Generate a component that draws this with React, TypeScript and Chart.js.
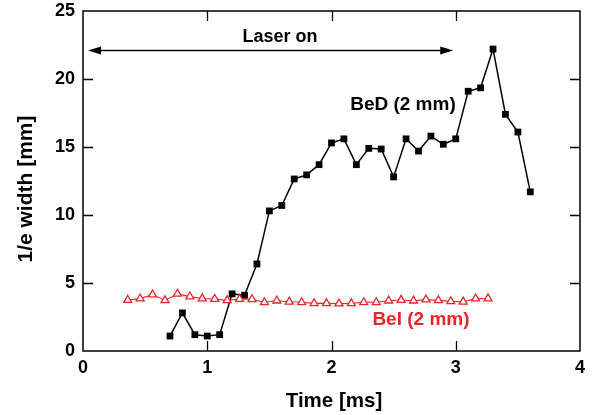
import React, { useEffect, useRef } from 'react';
import { Chart, registerables } from 'chart.js';

Chart.register(...registerables);

const bedTime = [0.7, 0.8, 0.9, 1.0, 1.1, 1.2, 1.3, 1.4, 1.5, 1.6, 1.7, 1.8, 1.9, 2.0, 2.1, 2.2, 2.3, 2.4, 2.5, 2.6, 2.7, 2.8, 2.9, 3.0, 3.1, 3.2, 3.3, 3.4, 3.5, 3.6];
const bedWidth = [1.1, 2.8, 1.2, 1.1, 1.2, 4.2, 4.1, 6.4, 10.3, 10.7, 12.65, 12.95, 13.7, 15.3, 15.6, 13.7, 14.9, 14.85, 12.8, 15.6, 14.7, 15.8, 15.2, 15.6, 19.1, 19.35, 22.2, 17.4, 16.1, 11.7];

const beiTime = [0.36, 0.46, 0.56, 0.66, 0.76, 0.86, 0.96, 1.06, 1.16, 1.26, 1.36, 1.46, 1.56, 1.66, 1.76, 1.86, 1.96, 2.06, 2.16, 2.26, 2.36, 2.46, 2.56, 2.66, 2.76, 2.86, 2.96, 3.06, 3.16, 3.26];
const beiWidth = [3.75, 3.85, 4.15, 3.72, 4.2, 4.0, 3.86, 3.82, 3.72, 3.82, 3.8, 3.58, 3.7, 3.62, 3.58, 3.5, 3.5, 3.48, 3.5, 3.58, 3.58, 3.7, 3.75, 3.7, 3.78, 3.72, 3.65, 3.62, 3.85, 3.86];

const xInnerTicks = [1, 2, 3];
const yInnerTicks = [5, 10, 15, 20];

const xTitle = 'Time [ms]';
const yTitle = '1/e width [mm]';

const laserArrow = { from: 0.04, to: 2.98, y: 22.1 };
const laserLabel = { text: 'Laser on', x: 1.585, y: 23.1 };
const bedLabel = { text: 'BeD (2 mm)', x: 2.575, y: 18.1 };
const beiLabel = { text: 'BeI (2 mm)', x: 2.72, y: 2.28 };

const RED = '#e8262c';
const FONT = '"Liberation Sans", Arial, Helvetica, sans-serif';

const framePlugin = {
  id: 'framePlugin',
  beforeDatasetsDraw(chart: any) {
    const { ctx, chartArea: a, scales } = chart;
    const xs = scales.x;
    const ys = scales.y;
    ctx.save();
    ctx.strokeStyle = '#000';
    ctx.lineWidth = 1.5;
    ctx.strokeRect(a.left, a.top, a.right - a.left, a.bottom - a.top);
    ctx.lineWidth = 1.3;
    const tl = 10;
    ctx.beginPath();
    for (const v of xInnerTicks) {
      const px = Math.round(xs.getPixelForValue(v)) + 0.5;
      ctx.moveTo(px, a.bottom);
      ctx.lineTo(px, a.bottom - tl);
      ctx.moveTo(px, a.top);
      ctx.lineTo(px, a.top + tl);
    }
    for (const v of yInnerTicks) {
      const py = Math.round(ys.getPixelForValue(v)) + 0.5;
      ctx.moveTo(a.left, py);
      ctx.lineTo(a.left + tl, py);
      ctx.moveTo(a.right, py);
      ctx.lineTo(a.right - tl, py);
    }
    ctx.stroke();

    // axis titles
    ctx.fillStyle = '#000';
    ctx.textAlign = 'center';
    ctx.textBaseline = 'alphabetic';
    ctx.font = `bold 20.5px ${FONT}`;
    ctx.fillText(xTitle, (a.left + a.right) / 2 + 2.5, 406.5);
    ctx.save();
    ctx.translate(32, (a.top + a.bottom) / 2 + 8);
    ctx.rotate(-Math.PI / 2);
    ctx.font = `bold 21px ${FONT}`;
    ctx.fillText(yTitle, 0, 0);
    ctx.restore();
    ctx.restore();
  },
  afterDatasetsDraw(chart: any) {
    const { ctx, scales } = chart;
    const xs = scales.x;
    const ys = scales.y;
    ctx.save();
    const x1 = xs.getPixelForValue(laserArrow.from);
    const x2 = xs.getPixelForValue(laserArrow.to);
    const y = Math.round(ys.getPixelForValue(laserArrow.y)) + 0.5;
    const hl = 13;
    const hw = 4;
    ctx.strokeStyle = '#000';
    ctx.fillStyle = '#000';
    ctx.lineWidth = 1.3;
    ctx.beginPath();
    ctx.moveTo(x1 + hl - 2, y);
    ctx.lineTo(x2 - hl + 2, y);
    ctx.stroke();
    ctx.beginPath();
    ctx.moveTo(x1, y);
    ctx.lineTo(x1 + hl, y - hw);
    ctx.lineTo(x1 + hl, y + hw);
    ctx.closePath();
    ctx.fill();
    ctx.beginPath();
    ctx.moveTo(x2, y);
    ctx.lineTo(x2 - hl, y - hw);
    ctx.lineTo(x2 - hl, y + hw);
    ctx.closePath();
    ctx.fill();

    ctx.textAlign = 'center';
    ctx.textBaseline = 'middle';
    ctx.font = `bold 18px ${FONT}`;
    ctx.fillText(laserLabel.text, xs.getPixelForValue(laserLabel.x), ys.getPixelForValue(laserLabel.y));
    ctx.font = `bold 19px ${FONT}`;
    ctx.fillText(bedLabel.text, xs.getPixelForValue(bedLabel.x), ys.getPixelForValue(bedLabel.y));
    ctx.fillStyle = RED;
    ctx.fillText(beiLabel.text, xs.getPixelForValue(beiLabel.x), ys.getPixelForValue(beiLabel.y));
    ctx.restore();
  },
};

export default function App() {
  const ref = useRef<HTMLCanvasElement>(null);
  useEffect(() => {
    if (!ref.current) return;
    const chart = new Chart(ref.current, {
      type: 'scatter',
      data: {
        datasets: [
          {
            label: 'BeI (2 mm)',
            data: beiTime.map((t, i) => ({ x: t, y: beiWidth[i] })),
            showLine: true,
            borderColor: RED,
            borderWidth: 1.1,
            pointStyle: 'triangle',
            pointRadius: 4.6,
            pointBorderWidth: 1.3,
            pointBorderColor: RED,
            pointBackgroundColor: '#fff',
          },
          {
            label: 'BeD (2 mm)',
            data: bedTime.map((t, i) => ({ x: t, y: bedWidth[i] })),
            showLine: true,
            borderColor: '#000',
            borderWidth: 1.5,
            pointStyle: 'rect',
            pointRadius: 4.8,
            pointBorderWidth: 0,
            pointBackgroundColor: '#000',
          },
        ],
      },
      options: {
        responsive: false,
        animation: false,
        events: [],
        layout: { padding: { left: 0, right: 15, top: 11, bottom: 0 } },
        plugins: { legend: { display: false }, tooltip: { enabled: false } },
        scales: {
          x: {
            type: 'linear',
            min: 0,
            max: 4,
            afterFit: (s: any) => { s.height = 64; s.paddingLeft = 0; s.paddingRight = 0; },
            grid: { display: false, drawTicks: false },
            border: { display: false },
            ticks: {
              stepSize: 1,
              padding: 6,
              color: '#000',
              font: { family: FONT, size: 18, weight: 'bold' },
            },
            title: { display: false },
          },
          y: {
            type: 'linear',
            min: 0,
            max: 25,
            afterFit: (s: any) => { s.width = 83; s.paddingTop = 0; s.paddingBottom = 0; },
            grid: { display: false, drawTicks: false },
            border: { display: false },
            ticks: {
              stepSize: 5,
              padding: 8,
              color: '#000',
              font: { family: FONT, size: 18, weight: 'bold' },
            },
            title: { display: false },
          },
        },
      },
      plugins: [framePlugin],
    } as any);
    return () => chart.destroy();
  }, []);
  return (
    <div style={{ position: 'fixed', left: 0, top: 0, width: 595, height: 415, background: '#fff' }}>
      <canvas ref={ref} width={595} height={415} style={{ display: 'block' }} />
    </div>
  );
}
